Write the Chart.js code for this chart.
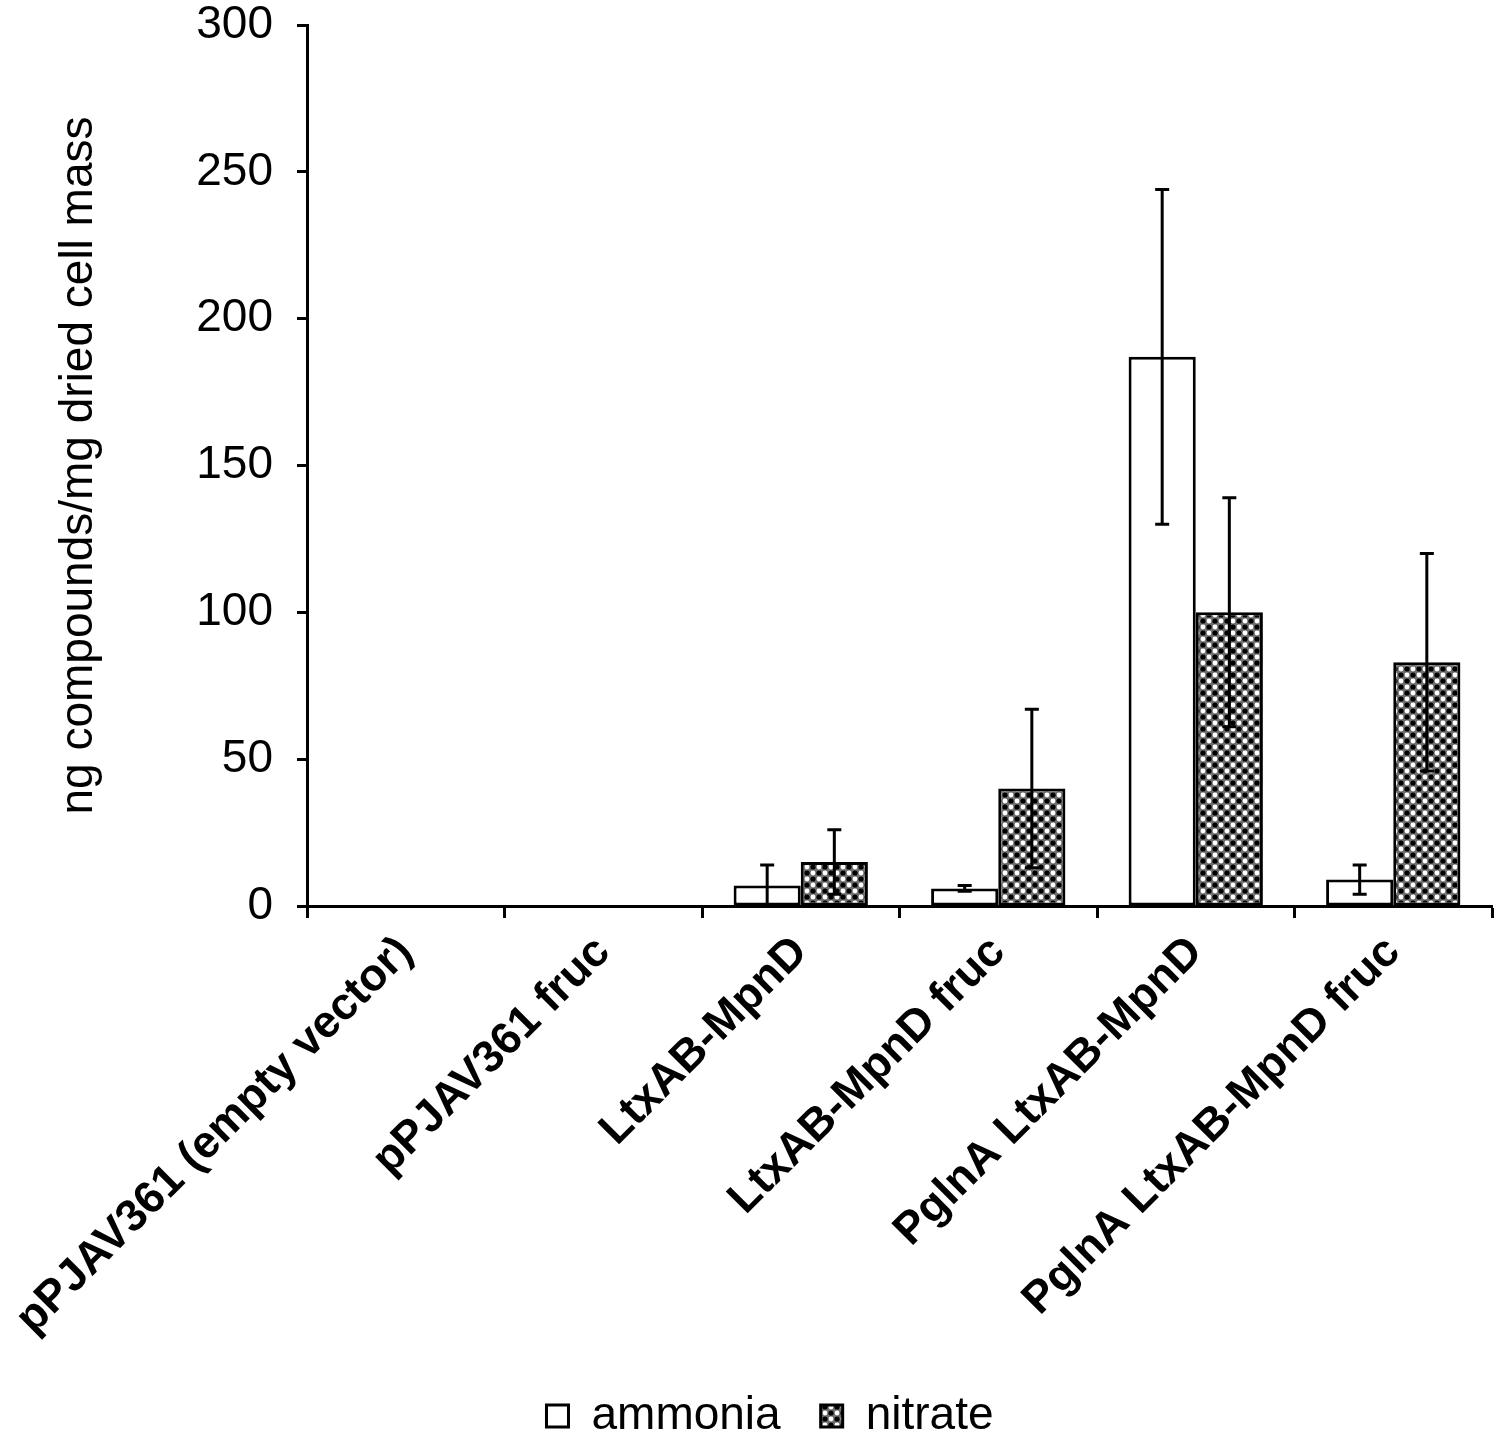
<!DOCTYPE html>
<html>
<head>
<meta charset="utf-8">
<script src="https://cdn.jsdelivr.net/npm/chart.js@4/dist/chart.umd.min.js"></script>
<style>
  html, body { margin: 0; padding: 0; background: #fff; }
  #chart { display: block; }
</style>
</head>
<body>
<canvas id="chart" width="1500" height="1449"></canvas>
<script>
var categories = [
  'pPJAV361 (empty vector)',
  'pPJAV361 fruc',
  'LtxAB-MpnD',
  'LtxAB-MpnD fruc',
  'PglnA LtxAB-MpnD',
  'PglnA LtxAB-MpnD fruc'
];
var ammonia = [null, null, 7, 6, 187, 9];
var ammoniaErr = [0, 0, 7, 1, 57, 5];
var nitrate = [null, null, 15, 40, 100, 83];
var nitrateErr = [0, 0, 11, 27, 39, 37];
var yTicks = [0, 50, 100, 150, 200, 250, 300];

var FONT = "'Liberation Sans', Arial, sans-serif";

// checkered fill like the printed figure
function makeChecker() {
  var c = document.createElement('canvas');
  c.width = 12;
  c.height = 12;
  var g = c.getContext('2d');
  g.fillStyle = '#707070';
  g.fillRect(0, 0, 12, 12);
  g.fillStyle = '#ffffff';
  g.beginPath(); g.arc(3, 3, 2.4, 0, Math.PI * 2); g.fill();
  g.beginPath(); g.arc(9, 9, 2.4, 0, Math.PI * 2); g.fill();
  g.fillStyle = '#000000';
  g.beginPath(); g.arc(9, 3, 2.6, 0, Math.PI * 2); g.fill();
  g.beginPath(); g.arc(3, 9, 2.6, 0, Math.PI * 2); g.fill();
  return g.createPattern(c, 'repeat');
}

var errorBars = {
  id: 'errorBars',
  afterDatasetsDraw: function (chart) {
    var ctx = chart.ctx;
    var y = chart.scales.y;
    ctx.save();
    ctx.strokeStyle = '#000';
    ctx.lineWidth = 3;
    chart.data.datasets.forEach(function (ds, i) {
      var meta = chart.getDatasetMeta(i);
      meta.data.forEach(function (bar, j) {
        var v = ds.data[j];
        var e = ds.errors[j];
        if (v === null || !e) return;
        var top = y.getPixelForValue(v + e);
        var bot = y.getPixelForValue(Math.max(v - e, 0));
        ctx.beginPath();
        ctx.moveTo(bar.x, top);
        ctx.lineTo(bar.x, bot);
        ctx.moveTo(bar.x - 7, top);
        ctx.lineTo(bar.x + 7, top);
        ctx.moveTo(bar.x - 7, bot);
        ctx.lineTo(bar.x + 7, bot);
        ctx.stroke();
      });
    });
    ctx.restore();
  }
};

// long rotated labels run a little past the x axis box, don't clip them
var noLabelClip = {
  id: 'noLabelClip',
  beforeDraw: function (chart) {
    chart.scales.x._computeLabelArea = function () { return undefined; };
  }
};

function init() {
  var canvas = document.getElementById('chart');
  new Chart(canvas, {
    type: 'bar',
    data: {
      labels: categories,
      datasets: [
        {
          label: 'ammonia',
          data: ammonia,
          errors: ammoniaErr,
          backgroundColor: '#ffffff',
          borderColor: '#000000',
          borderWidth: 3,
          borderSkipped: false
        },
        {
          label: 'nitrate',
          data: nitrate,
          errors: nitrateErr,
          backgroundColor: makeChecker(),
          borderColor: '#000000',
          borderWidth: 3,
          borderSkipped: false
        }
      ]
    },
    plugins: [errorBars, noLabelClip],
    options: {
      responsive: false,
      devicePixelRatio: 1,
      animation: false,
      // left padding only recentres the bottom legend; y axis width makes up for it
      layout: { padding: { top: 25, right: 8, left: 48, bottom: 0 } },
      categoryPercentage: 0.68,
      barPercentage: 1.0,
      plugins: {
        tooltip: { enabled: false },
        legend: {
          position: 'bottom',
          labels: {
            color: '#000',
            font: { family: FONT, size: 46 },
            boxWidth: 22,
            boxHeight: 22,
            padding: 40
          }
        }
      },
      scales: {
        x: {
          grid: {
            display: true,
            drawOnChartArea: false,
            drawTicks: true,
            tickLength: 12,
            tickWidth: 3,
            tickColor: '#000',
            offset: true
          },
          border: { color: '#000', width: 3 },
          ticks: {
            color: '#000',
            font: { family: FONT, size: 45, weight: 'bold' },
            minRotation: 45,
            maxRotation: 45,
            autoSkip: false,
            padding: 8
          },
          afterFit: function (s) {
            s.height = 447;
            s.paddingLeft = 0;
            s.paddingRight = 0;
          }
        },
        y: {
          min: 0,
          max: 300,
          afterBuildTicks: function (s) {
            s.ticks = yTicks.map(function (v) { return { value: v }; });
          },
          grid: {
            display: true,
            drawOnChartArea: false,
            tickLength: 10,
            tickWidth: 3,
            tickColor: '#000'
          },
          border: { color: '#000', width: 3 },
          ticks: {
            color: '#000',
            font: { family: FONT, size: 46 },
            padding: 24
          },
          title: {
            display: true,
            text: 'ng compounds/mg dried cell mass',
            color: '#000',
            font: { family: FONT, size: 46 },
            padding: { top: 4, bottom: 0 }
          },
          afterFit: function (s) {
            s.width = 259;
            s.paddingTop = 0;
            s.paddingBottom = 0;
          }
        }
      }
    }
  });
}

init();
</script>
</body>
</html>
